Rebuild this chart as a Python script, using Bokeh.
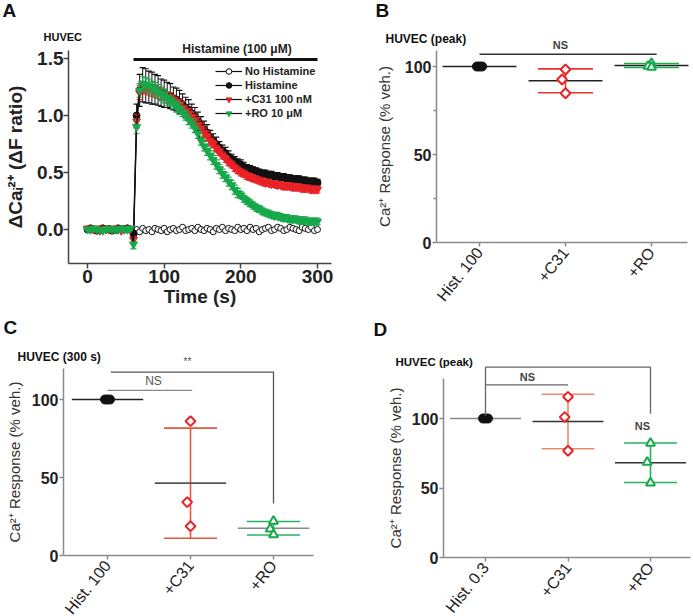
import math
import numpy as np
from bokeh.plotting import figure
from bokeh.layouts import row, column
from bokeh.models import (FixedTicker, Legend, LegendItem, Range1d,
                          NumeralTickFormatter)
from bokeh.core.properties import value
from bokeh.embed import file_html
from bokeh.resources import INLINE

FONT = "Liberation Sans"

# ---------------- Panel A data (time course, 4 s sampling) ----------------
TIME = list(range(0, 301, 4))
HIST_ON = [60, 300]

NO_HIST = [0.00, 0.01, 0.00, 0.00, -0.01, 0.00, 0.00, 0.01, 0.00, -0.01,
           0.00, 0.00, 0.01, 0.00, 0.00,
           -0.01, 0.00, -0.02, 0.01, -0.01, 0.00, -0.02, 0.01, 0.00, -0.01,
           0.01, -0.02, 0.00, 0.01, -0.01, 0.00, 0.02, -0.01, 0.00, 0.01,
           -0.01, 0.02, 0.00, -0.01, 0.01, 0.00, -0.02, 0.01, 0.00, 0.02,
           -0.01, 0.01, 0.00, -0.01, 0.02, 0.00, 0.01, -0.01, 0.02, 0.00,
           0.01, -0.02, 0.00, 0.01, 0.02, -0.01, 0.00, 0.02, 0.01, -0.01,
           0.00, 0.02, 0.01, 0.00, -0.01, 0.02, 0.01, 0.00, 0.02, -0.01,
           0.00]

HIST = [0.00, 0.01, 0.00, -0.01, 0.00, 0.01, 0.00, 0.00, -0.01, 0.00,
        0.01, 0.00, 0.00, 0.01, 0.00,
        -0.04, 1.00, 1.22, 1.27, 1.26, 1.25, 1.24, 1.23, 1.22, 1.20,
        1.19, 1.18, 1.17, 1.15, 1.14, 1.12, 1.10, 1.07, 1.05, 1.02,
        0.99, 0.95, 0.92, 0.88, 0.85, 0.81, 0.78, 0.75, 0.72, 0.69,
        0.67, 0.64, 0.62, 0.60, 0.58, 0.57, 0.55, 0.54, 0.53, 0.52,
        0.51, 0.50, 0.49, 0.49, 0.48, 0.48, 0.47, 0.47, 0.46, 0.46,
        0.45, 0.45, 0.44, 0.44, 0.44, 0.43, 0.43, 0.42, 0.42, 0.42,
        0.41]
HIST_ERR = [0.01, 0.01, 0.01, 0.01, 0.01, 0.01, 0.01, 0.01, 0.01, 0.01,
            0.01, 0.01, 0.01, 0.01, 0.01,
            0.03, 0.10, 0.14, 0.15, 0.15, 0.14, 0.14, 0.13, 0.13, 0.12,
            0.12, 0.11, 0.11, 0.10, 0.10, 0.10, 0.09, 0.09, 0.09, 0.08,
            0.08, 0.08, 0.07, 0.07, 0.07, 0.06, 0.06, 0.06, 0.05, 0.05,
            0.05, 0.05, 0.04, 0.04, 0.04, 0.04, 0.04, 0.03, 0.03, 0.03,
            0.03, 0.03, 0.03, 0.03, 0.03, 0.03, 0.03, 0.03, 0.03, 0.03,
            0.03, 0.03, 0.03, 0.03, 0.03, 0.03, 0.03, 0.03, 0.03, 0.03,
            0.03]

C31 = [0.01, 0.00, 0.00, 0.01, -0.01, 0.00, 0.01, 0.00, 0.00, 0.01,
       0.00, -0.01, 0.00, 0.01, 0.00,
       -0.09, 0.95, 1.20, 1.25, 1.24, 1.23, 1.22, 1.21, 1.20, 1.19,
       1.18, 1.16, 1.15, 1.13, 1.11, 1.09, 1.07, 1.04, 1.02, 0.99,
       0.96, 0.92, 0.89, 0.85, 0.82, 0.78, 0.75, 0.71, 0.68, 0.65,
       0.62, 0.59, 0.57, 0.54, 0.52, 0.50, 0.49, 0.47, 0.46, 0.45,
       0.44, 0.43, 0.42, 0.41, 0.41, 0.40, 0.40, 0.39, 0.39, 0.38,
       0.38, 0.38, 0.37, 0.37, 0.37, 0.36, 0.36, 0.36, 0.35, 0.35,
       0.35]
C31_ERR = [0.01, 0.01, 0.01, 0.01, 0.01, 0.01, 0.01, 0.01, 0.01, 0.01,
           0.01, 0.01, 0.01, 0.01, 0.01,
           0.03, 0.06, 0.06, 0.05, 0.05, 0.05, 0.05, 0.05, 0.05, 0.05,
           0.05, 0.05, 0.05, 0.05, 0.05, 0.05, 0.05, 0.04, 0.04, 0.04,
           0.04, 0.04, 0.04, 0.04, 0.04, 0.04, 0.03, 0.03, 0.03, 0.03,
           0.03, 0.03, 0.03, 0.03, 0.03, 0.03, 0.03, 0.03, 0.03, 0.03,
           0.03, 0.03, 0.03, 0.03, 0.03, 0.03, 0.03, 0.03, 0.03, 0.03,
           0.03, 0.03, 0.03, 0.03, 0.03, 0.03, 0.03, 0.03, 0.03, 0.03,
           0.03]

RO = [0.00, 0.00, 0.01, 0.00, 0.00, -0.01, 0.00, 0.01, 0.00, 0.00,
      0.00, 0.01, 0.00, 0.00, 0.01,
      -0.13, 0.90, 1.22, 1.28, 1.27, 1.26, 1.24, 1.23, 1.21, 1.19,
      1.17, 1.15, 1.13, 1.11, 1.08, 1.06, 1.03, 1.00, 0.96, 0.93,
      0.89, 0.84, 0.78, 0.73, 0.69, 0.65, 0.61, 0.57, 0.53, 0.49,
      0.46, 0.42, 0.39, 0.35, 0.32, 0.30, 0.27, 0.25, 0.23, 0.21,
      0.19, 0.18, 0.16, 0.15, 0.14, 0.13, 0.12, 0.12, 0.11, 0.10,
      0.10, 0.09, 0.09, 0.09, 0.08, 0.08, 0.08, 0.07, 0.07, 0.07,
      0.07]
RO_ERR = [0.01, 0.01, 0.01, 0.01, 0.01, 0.01, 0.01, 0.01, 0.01, 0.01,
          0.01, 0.01, 0.01, 0.01, 0.01,
          0.04, 0.06, 0.06, 0.06, 0.06, 0.06, 0.06, 0.06, 0.06, 0.06,
          0.06, 0.06, 0.05, 0.05, 0.05, 0.05, 0.04, 0.04, 0.04, 0.04,
          0.04, 0.04, 0.04, 0.04, 0.04, 0.04, 0.04, 0.04, 0.04, 0.04,
          0.04, 0.04, 0.04, 0.04, 0.04, 0.03, 0.03, 0.03, 0.03, 0.03,
          0.03, 0.03, 0.03, 0.03, 0.03, 0.03, 0.03, 0.03, 0.03, 0.03,
          0.03, 0.03, 0.03, 0.03, 0.03, 0.03, 0.03, 0.03, 0.03, 0.03,
          0.03]

SERIES_NAMES = ["No Histamine", "Histamine", "+C31 100 nM", "+RO 10 μM"]

# ---------------- Panels B, C, D data (% of vehicle) ----------------
CATS_B = ["Hist. 100", "+C31", "+RO"]
B_HIST = [100.0, 100.0, 100.0]
B_C31 = [98.3, 92.6, 84.8]
B_RO = [101.8, 100.2, 99.6]

CATS_C = ["Hist. 100", "+C31", "+RO"]
C_HIST = [100.0, 100.0, 100.0]
C_C31 = [86.1, 34.2, 18.8]
C_RO = [22.0, 17.1, 13.3]

CATS_D = ["Hist. 0.3", "+C31", "+RO"]
D_HIST = [100.0, 100.0, 100.0]
D_C31 = [115.6, 101.0, 76.8]
D_RO = [82.2, 68.6, 53.7]

RED = "#ea2227"
GREEN = "#16a84a"
JIT = np.array([-0.03, 0.0, 0.03])
JIT_OPEN = np.array([0.0, -0.04, 0.0])
MEAN_HALF = 0.43
CAP_HALF = 0.32
CAT_ANGLE = 0.9


class PageMap:
    """Maps page pixel positions to the data units of one panel."""
    def __init__(self, ox, oy, w, h, xpx, xv, xppu, ypx, yv, yppu):
        self.ox, self.oy, self.w, self.h = ox, oy, w, h
        self.xpx, self.xv, self.xppu = xpx, xv, xppu
        self.ypx, self.yv, self.yppu = ypx, yv, yppu

    def x(self, px):
        return self.xv + (px - self.xpx) / self.xppu

    def y(self, py):
        return self.yv + (self.ypx - py) / self.yppu

    def xr(self):
        return (self.x(self.ox), self.x(self.ox + self.w))

    def yr(self):
        return (self.y(self.oy + self.h), self.y(self.oy))


def make_fig(m):
    p = figure(width=m.w, height=m.h, x_range=Range1d(*m.xr()),
               y_range=Range1d(*m.yr()), output_backend="svg",
               toolbar_location=None, title_location=None, min_border=0)
    p.outline_line_color = None
    p.xgrid.visible = False
    p.ygrid.visible = False
    p.background_fill_color = "white"
    p.border_fill_color = "white"
    return p


def ptext(p, x, y, s, size, color="#222", bold=True, align="center"):
    p.text(x=[x], y=[y], text=[s], text_font=value(FONT), text_font_size=size,
           text_font_style="bold" if bold else "normal",
           text_align=align, text_baseline="middle", text_color=color)


# ======================= Panel A =======================
mA = PageMap(0, 0, 345, 312, 87, 0.0, 230 / 300, 229, 0.0, 114)
pa = make_fig(mA)
t = np.array(TIME, float)
ax_col = "#444"
for ax in (pa.xaxis[0], pa.yaxis[0]):
    ax.axis_line_color = ax_col
    ax.axis_line_width = 1.5
    ax.major_tick_line_color = ax_col
    ax.major_tick_line_width = 1.5
    ax.major_tick_out = 5
    ax.major_tick_in = 0
    ax.minor_tick_out = 0
    ax.minor_tick_in = 0
    ax.major_label_text_font = FONT
    ax.major_label_text_font_size = "19px"
    ax.major_label_text_font_style = "bold"
    ax.major_label_text_color = "#222"
    ax.axis_label_text_font = FONT
    ax.axis_label_text_font_size = "19px"
    ax.axis_label_text_font_style = "bold"
    ax.axis_label_text_color = "#222"
pa.xaxis.major_label_standoff = 1
pa.xaxis.axis_label_standoff = 0
pa.yaxis.major_label_standoff = 0
pa.yaxis.axis_label_standoff = 8
pa.xaxis.ticker = FixedTicker(ticks=[0, 100, 200, 300])
pa.yaxis.ticker = FixedTicker(ticks=[0, 0.5, 1.0, 1.5])
pa.yaxis.formatter = NumeralTickFormatter(format="0.0")
pa.yaxis.fixed_location = mA.x(68)
pa.xaxis.fixed_location = mA.y(263)
pa.yaxis.bounds = (mA.y(263), mA.y(50))
pa.xaxis.bounds = (mA.x(68), mA.x(331))
pa.xaxis.axis_label = "Time (s)"
pa.yaxis.axis_label = "ΔCaᵢ²⁺ (ΔF ratio)"

specs = [
    (NO_HIST, None, "circle", "white", "#111", 6),
    (HIST, HIST_ERR, "circle", "#111", "#111", 7),
    (C31, C31_ERR, "inverted_triangle", RED, RED, 8),
    (RO, RO_ERR, "inverted_triangle", GREEN, GREEN, 8),
]
items = []
for name, (vals, err, mk, fill, lc, sz) in zip(SERIES_NAMES, specs):
    v = np.array(vals, float)
    if err is not None:
        e = np.array(err, float)
        pa.segment(x0=t, y0=v - e, x1=t, y1=v + e, line_color=lc, line_width=1)
        pa.scatter(x=np.concatenate([t, t]), y=np.concatenate([v + e, v - e]),
                   marker="dash", size=6, line_color=lc, line_width=1.2)
    ln = pa.line(t, v, line_color="#111", line_width=1.2)
    sc = pa.scatter(t, v, marker=mk, size=sz, fill_color=fill,
                    line_color=lc, line_width=1)
    items.append(LegendItem(label=name, renderers=[ln, sc]))

pa.segment(x0=[HIST_ON[0]], y0=[mA.y(59)], x1=[HIST_ON[1]], y1=[mA.y(59)],
           line_color="#111", line_width=3)
ptext(pa, mA.x(236.5), mA.y(48), "Histamine (100 μM)", "12px")
ptext(pa, mA.x(2), mA.y(10), "A", "19px", color="#111", align="left")
ptext(pa, mA.x(43), mA.y(36), "HUVEC", "11px", color="#111", align="left")

leg = Legend(items=items, location=(215 - mA.ox, mA.oy + mA.h - 120),
             padding=0, margin=0, spacing=0, label_height=14,
             glyph_height=14, glyph_width=27, label_standoff=3,
             label_text_font=FONT, label_text_font_size="11px",
             label_text_font_style="bold", label_text_color="#222",
             border_line_alpha=0, background_fill_alpha=0)
pa.add_layout(leg)


# ======================= group panels =======================
def group_fig(m, axis_px, axis_end_px, top_px, cats, minor, label_standoff):
    p = make_fig(m)
    for ax in (p.xaxis[0], p.yaxis[0]):
        ax.axis_line_color = "#8a8a8a"
        ax.axis_line_width = 1.5
        ax.major_tick_line_color = "#8a8a8a"
        ax.major_tick_line_width = 1.5
        ax.major_tick_out = 4
        ax.major_tick_in = 0
        ax.minor_tick_in = 0
        ax.minor_tick_out = 0
        ax.major_label_text_font = FONT
        ax.axis_label_text_font = FONT
        ax.major_label_standoff = 1
    p.yaxis.fixed_location = m.x(axis_px)
    p.xaxis.fixed_location = 0
    p.yaxis.bounds = (0, m.y(top_px))
    p.xaxis.bounds = (m.x(axis_px), m.x(axis_end_px))
    p.yaxis.ticker = FixedTicker(ticks=[0, 50, 100], minor_ticks=minor)
    p.yaxis.minor_tick_out = 3
    p.yaxis.minor_tick_line_color = "#8a8a8a"
    p.yaxis.minor_tick_line_width = 1.5
    p.yaxis.major_label_text_font_size = "16px"
    p.yaxis.major_label_text_font_style = "bold"
    p.yaxis.major_label_text_color = "#222"
    p.yaxis.axis_label = "Ca²⁺ Response (% veh.)"
    p.yaxis.axis_label_text_font_size = "15px"
    p.yaxis.axis_label_text_font_style = "normal"
    p.yaxis.axis_label_text_color = "#333"
    p.yaxis.axis_label_standoff = label_standoff
    p.xaxis.ticker = FixedTicker(ticks=[1, 2, 3])
    p.xaxis.major_label_overrides = {i + 1: c for i, c in enumerate(cats)}
    p.xaxis.major_label_orientation = CAT_ANGLE
    p.xaxis.major_label_standoff = 3
    p.xaxis.major_label_text_font_size = "16px"
    p.xaxis.major_label_text_color = "#222"
    return p


def draw_group(p, gx, vals, kind, sd_color, mean_color):
    arr = np.array(vals, float)
    m = arr.mean()
    sd = arr.std(ddof=1)
    if sd > 0:
        p.segment(x0=[gx], y0=[m - sd], x1=[gx], y1=[m + sd],
                  line_color=sd_color, line_width=1.6)
        p.segment(x0=[gx - CAP_HALF] * 2, y0=[m - sd, m + sd],
                  x1=[gx + CAP_HALF] * 2, y1=[m - sd, m + sd],
                  line_color=sd_color, line_width=1.6)
    p.segment(x0=[gx - MEAN_HALF], y0=[m], x1=[gx + MEAN_HALF], y1=[m],
              line_color=mean_color, line_width=1.6)
    if kind == "hist":
        p.scatter(gx + JIT, arr, marker="circle", size=9,
                  fill_color="#111", line_color="#111")
    elif kind == "c31":
        p.scatter(gx + JIT_OPEN, arr, marker="square", angle=math.pi / 4,
                  size=7, fill_color="white", line_color=RED, line_width=2)
    else:
        p.scatter(gx + JIT_OPEN, arr, marker="triangle", size=9,
                  fill_color="white", line_color=GREEN, line_width=2)


# ---- B ----
mB = PageMap(345, 0, 348, 312, 479, 1.0, 86, 242, 0.0, 1.76)
pb = group_fig(mB, 436, 687, 50, CATS_B, [25, 75], 9)
draw_group(pb, 1, B_HIST, "hist", "#222", "#222")
draw_group(pb, 2, B_C31, "c31", "#e8342e", "#222")
draw_group(pb, 3, B_RO, "ro", "#1fae4f", "#222")
pb.line([1.0, 3.06], [107, 107], line_color="#333", line_width=1.5)
ptext(pb, mB.x(560), mB.y(44), "NS", "11px", color="#444")
ptext(pb, mB.x(375), mB.y(10), "B", "19px", color="#111", align="left")
ptext(pb, mB.x(385), mB.y(38), "HUVEC (peak)", "12px", color="#111", align="left")

# ---- C ----
mC = PageMap(0, 312, 345, 304, 107, 1.0, 83, 555, 0.0, 1.56)
pc = group_fig(mC, 63, 313, 368, CATS_C, [], 6)
draw_group(pc, 1, C_HIST, "hist", "#222", "#222")
draw_group(pc, 2, C_C31, "c31", "#e4573d", "#555")
draw_group(pc, 3, C_RO, "ro", "#2bb35e", "#888")
pc.line([1.0, 2.02], [105.8, 105.8], line_color="#888", line_width=1.2)
ptext(pc, mC.x(153), mC.y(380.5), "NS", "12px", color="#555", bold=False)
pc.line([1.04, 3.0, 3.0], [117.5, 117.5, 33.3], line_color="#555", line_width=1.3)
ptext(pc, mC.x(187), mC.y(361), "**", "10px", color="#555", bold=False)
ptext(pc, mC.x(3), mC.y(326.5), "C", "19px", color="#111", align="left")
ptext(pc, mC.x(17), mC.y(356), "HUVEC (300 s)", "12px", color="#111", align="left")

# ---- D ----
mD = PageMap(345, 312, 348, 304, 485, 1.0, 82.5, 557, 0.0, 1.39)
pd_ = group_fig(mD, 443, 690, 378, CATS_D, [], 5)
draw_group(pd_, 1, D_HIST, "hist", "#888", "#888")
draw_group(pd_, 2, D_C31, "c31", "#ea8a6c", "#333")
draw_group(pd_, 3, D_RO, "ro", "#25b25a", "#333")
pd_.line([1, 1, 3, 3], [102, 136.9, 136.9, 103.5], line_color="#666", line_width=1.3)
pd_.line([1, 2.0], [124.2, 124.2], line_color="#666", line_width=1.3)
ptext(pd_, mD.x(527), mD.y(376.5), "NS", "11px", color="#444")
ptext(pd_, mD.x(642), mD.y(425), "NS", "11px", color="#444")
ptext(pd_, mD.x(373), mD.y(328.5), "D", "19px", color="#111", align="left")
ptext(pd_, mD.x(395), mD.y(361), "HUVEC (peak)", "11.5px", color="#111", align="left")

layout = column(row(pa, pb), row(pc, pd_))
open("out.html", "w").write(file_html(layout, INLINE))
